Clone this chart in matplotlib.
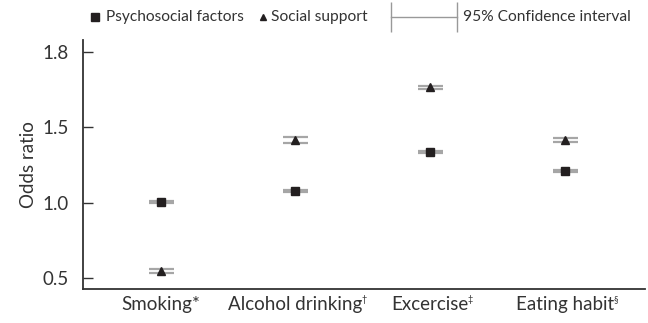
import matplotlib
matplotlib.use("Agg")
import matplotlib.pyplot as plt
from matplotlib.lines import Line2D
import numpy as np

plt.rcParams["font.family"] = ["Lato", "DejaVu Sans"]

# Data
categories = ["Smoking*", "Alcohol drinking", "Excercise", "Eating habit"]
footnotes = ["", "†", "‡", "§"]
psy_or = [1.006, 1.079, 1.336, 1.212]
psy_lo = [0.999, 1.073, 1.330, 1.206]
psy_hi = [1.013, 1.086, 1.342, 1.218]
soc_or = [0.546, 1.415, 1.767, 1.416]
soc_lo = [0.531, 1.394, 1.757, 1.400]
soc_hi = [0.557, 1.434, 1.777, 1.427]
ytick_vals = [0.5, 1.0, 1.5, 2.0]
ytick_labels = ["0.5", "1.0", "1.5", "1.8"]

text_col = "#333333"
ci_col = "#a6a6a6"
mark_col = "#231f20"
W, H = 648, 323

fig = plt.figure(figsize=(6.48, 3.23), dpi=100)
ax = fig.add_axes([0.1276, 0.105, 0.995 - 0.1276, 0.876 - 0.105])

x = np.arange(1, len(categories) + 1)
psy_or, psy_lo, psy_hi = map(np.array, (psy_or, psy_lo, psy_hi))
soc_or, soc_lo, soc_hi = map(np.array, (soc_or, soc_lo, soc_hi))

# confidence intervals (caps only visible, bar hidden behind marker)
ax.errorbar(x, psy_or, yerr=[psy_or - psy_lo, psy_hi - psy_or], fmt="none",
            ecolor=ci_col, elinewidth=1.2, capsize=9, capthick=1.6, zorder=2)
ax.errorbar(x, soc_or, yerr=[soc_or - soc_lo, soc_hi - soc_or], fmt="none",
            ecolor=ci_col, elinewidth=1.2, capsize=9, capthick=1.6, zorder=2)

ax.plot(x, psy_or, "s", color=mark_col, markersize=6, linestyle="none", zorder=3)
ax.plot(x, soc_or, "^", color=mark_col, markersize=5.5, linestyle="none", zorder=3)

ax.set_xlim(0.423, 4.59)
ax.set_ylim(0.427, 2.08)
ax.set_yticks(ytick_vals)
ax.set_yticklabels(ytick_labels)
ax.set_xticks(x)
ax.set_xticklabels(categories)
ax.set_ylabel("Odds ratio", fontsize=13.5, color=text_col, labelpad=4)

for side in ["top", "right"]:
    ax.spines[side].set_visible(False)
for side in ["left", "bottom"]:
    ax.spines[side].set_color(text_col)
    ax.spines[side].set_linewidth(1.3)
ax.tick_params(axis="y", direction="in", length=7, width=1, color=text_col,
               labelsize=13.5, labelcolor=text_col, pad=10)
ax.tick_params(axis="x", length=0, labelsize=13.5, labelcolor=text_col, pad=5)

# small footnote marks after the category labels
fig.canvas.draw()
renderer = fig.canvas.get_renderer()
for lab, note in zip(ax.get_xticklabels(), footnotes):
    if not note:
        continue
    bb = lab.get_window_extent(renderer)
    fig.text((bb.x1 - 1) / W, (bb.y1 + 1) / H, note, fontsize=6.5,
             color=text_col, ha="left", va="top")

# legend drawn by hand across the top
ly = 1 - 17 / H
fs = 11.2
fig.add_artist(Line2D([95 / W], [ly], marker="s", color=mark_col, markersize=6,
                      transform=fig.transFigure))
fig.text(106 / W, ly, "Psychosocial factors", fontsize=fs, color=text_col,
         va="center", ha="left")
fig.add_artist(Line2D([263 / W], [ly], marker="^", color=mark_col, markersize=5,
                      transform=fig.transFigure))
fig.text(271 / W, ly, "Social support", fontsize=fs, color=text_col,
         va="center", ha="left")
fig.add_artist(Line2D([391 / W, 457 / W], [ly, ly], color="#999999", lw=1,
                      marker="|", markersize=22, markeredgewidth=1,
                      transform=fig.transFigure))
fig.text(463 / W, ly, "95% Confidence interval", fontsize=fs, color=text_col,
         va="center", ha="left")

fig.savefig("out.png", dpi=100)
